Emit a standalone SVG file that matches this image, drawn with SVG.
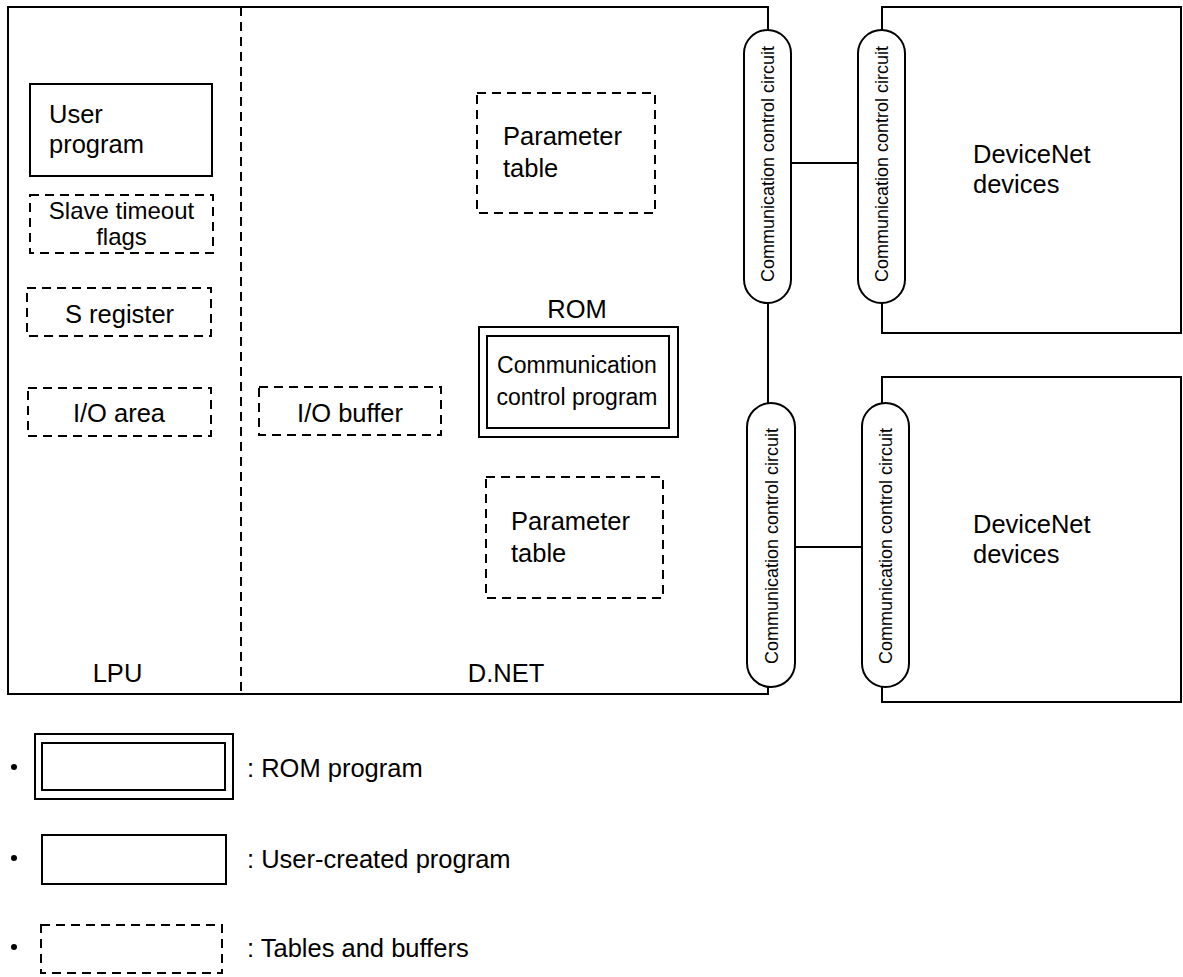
<svg xmlns="http://www.w3.org/2000/svg" width="1183" height="977" viewBox="0 0 1183 977">
<style>
text{font-family:"Liberation Sans",Arial,sans-serif;font-size:25.5px;fill:#000}
.c{text-anchor:middle}
.cap{font-size:18px;text-anchor:middle}
.sm{font-size:24px}
.solid{fill:#fff;stroke:#000;stroke-width:2}
.dash{fill:none;stroke:#000;stroke-width:2;stroke-dasharray:9 6}
.line{fill:none;stroke:#000;stroke-width:2}
</style>
<rect width="1183" height="977" fill="#fff"/>
<g id="connectors">
<path class="line" d="M768,30 V7 H8 V694 H768 V687"/>
<path class="line" d="M768,303 V403"/>
<path class="line" d="M791,163 H858"/>
<path class="line" d="M795,547 H862"/>
<line class="dash" x1="241" y1="7" x2="241" y2="694"/>
</g>
<g id="devicenet1">
<rect class="solid" x="882" y="7" width="299" height="326"/>
<text x="973" y="163">DeviceNet</text>
<text x="973" y="193">devices</text>
</g>
<g id="devicenet2">
<rect class="solid" x="882" y="377" width="299" height="325"/>
<text x="973" y="533">DeviceNet</text>
<text x="973" y="563">devices</text>
</g>
<g id="ccc1">
<rect class="solid" x="744" y="30" width="47" height="273" rx="23.5" ry="23.5"/>
<text class="cap" transform="translate(774,164) rotate(-90)">Communication control circuit</text>
</g>
<g id="ccc2">
<rect class="solid" x="858" y="30" width="47" height="273" rx="23.5" ry="23.5"/>
<text class="cap" transform="translate(888,164) rotate(-90)">Communication control circuit</text>
</g>
<g id="ccc3">
<rect class="solid" x="747" y="403" width="48" height="284" rx="24" ry="24"/>
<text class="cap" transform="translate(778,546) rotate(-90)">Communication control circuit</text>
</g>
<g id="ccc4">
<rect class="solid" x="862" y="403" width="47" height="284" rx="23.5" ry="23.5"/>
<text class="cap" transform="translate(892,546) rotate(-90)">Communication control circuit</text>
</g>
<g id="user-program">
<rect class="solid" x="30" y="84" width="182" height="92"/>
<text x="49" y="123">User</text>
<text x="49" y="153">program</text>
</g>
<g id="slave-timeout">
<rect class="dash" x="30" y="195" width="183" height="58"/>
<text class="c sm" x="121.5" y="219">Slave timeout</text>
<text class="c sm" x="121.5" y="245">flags</text>
</g>
<g id="s-register">
<rect class="dash" x="27" y="288" width="184" height="48"/>
<text class="c" x="119.5" y="323">S register</text>
</g>
<g id="io-area">
<rect class="dash" x="28" y="388" width="183" height="48"/>
<text class="c" x="119" y="422">I/O area</text>
</g>
<g id="io-buffer">
<rect class="dash" x="259" y="387" width="182" height="48"/>
<text class="c" x="350" y="422">I/O buffer</text>
</g>
<g id="param1">
<rect class="dash" x="477" y="93" width="178" height="120"/>
<text x="503" y="145">Parameter</text>
<text x="503" y="177">table</text>
</g>
<g id="rom">
<text class="c" x="577" y="318">ROM</text>
<rect class="solid" x="479" y="327" width="199" height="110"/>
<rect class="solid" x="487" y="336" width="182" height="92" stroke-width="2.5"/>
<text class="c" x="577" y="373" style="font-size:23px">Communication</text>
<text class="c" x="577" y="405" style="font-size:23px">control program</text>
</g>
<g id="param2">
<rect class="dash" x="486" y="477" width="177" height="121"/>
<text x="511" y="530">Parameter</text>
<text x="511" y="562">table</text>
</g>
<g id="labels">
<text class="c" x="117.5" y="682">LPU</text>
<text class="c" x="506" y="682">D.NET</text>
</g>
<g id="legend">
<circle cx="14" cy="767" r="3"/>
<rect class="solid" x="35" y="734" width="198" height="65" stroke-width="1.5"/>
<rect class="solid" x="42" y="743" width="183" height="47" stroke-width="2.5"/>
<text x="247" y="777">: ROM program</text>
<circle cx="14" cy="858" r="3"/>
<rect class="solid" x="42" y="835" width="184" height="49"/>
<text x="247" y="868">: User-created program</text>
<circle cx="14" cy="947" r="3"/>
<rect class="dash" x="41" y="925" width="181" height="48"/>
<text x="247" y="957">: Tables and buffers</text>
</g>
</svg>
